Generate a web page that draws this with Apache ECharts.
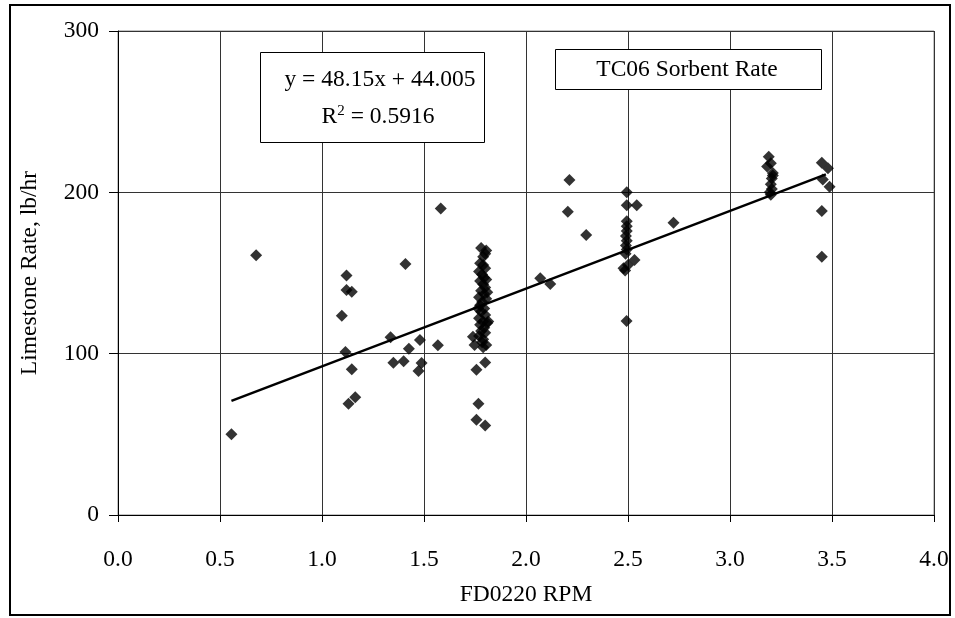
<!DOCTYPE html>
<html>
<head>
<meta charset="utf-8">
<script src="https://cdn.jsdelivr.net/npm/echarts@6/dist/echarts.min.js"></script>
<style>
html,body{margin:0;padding:0;background:#fff;}
#chart{width:955px;height:618px;}
</style>
</head>
<body>
<div id="chart"></div>
<script>
// FD0220 RPM values
var rpm = [
  0.556, 0.677, 1.097, 1.12, 1.12, 1.146, 1.115, 1.146, 1.13, 1.163,
  1.336, 1.35, 1.40, 1.409, 1.426, 1.48, 1.488, 1.473, 1.568, 1.582,
  1.74, 1.757, 1.80, 1.767, 1.757, 1.80,
  1.78, 1.805, 1.80, 1.775, 1.79, 1.80, 1.77, 1.785, 1.795, 1.775,
  1.79, 1.80, 1.78, 1.795, 1.77, 1.805, 1.785, 1.775, 1.795, 1.78,
  1.80, 1.77, 1.79, 1.81, 1.775, 1.795, 1.78, 1.80, 1.77, 1.79,
  1.785, 1.748, 1.805, 1.79, 1.81, 1.815, 1.765, 1.805, 1.79,
  2.07, 2.119, 2.205, 2.213, 2.295, 2.723,
  2.494, 2.494, 2.543, 2.494, 2.494, 2.494, 2.49, 2.494, 2.49, 2.494,
  2.488, 2.532, 2.478, 2.486, 2.50, 2.493,
  3.19, 3.182, 3.20, 3.21, 3.205, 3.20, 3.205, 3.20, 3.21, 3.195,
  3.45, 3.48, 3.455, 3.488, 3.45, 3.45
];
// Limestone rate values, lb/hr
var rate = [
  50, 161, 123.5, 148.5, 139.5, 138.4, 101, 90.3, 69, 73,
  110.2, 94.4, 95.3, 155.6, 103.1, 108.5, 94.2, 89.3, 105.2, 190,
  110.5, 90, 94.5, 69, 59, 55.5,
  165.5, 164, 162, 156, 155, 153, 151, 149, 147, 145,
  143, 141, 139, 137, 135, 134, 132, 130, 128, 126,
  124, 122, 120, 119, 118, 116, 114, 113, 111, 109,
  107, 105.4, 105.4, 104, 138, 120, 128, 146, 160,
  146.7, 143.2, 188, 207.7, 173.6, 181.2,
  200, 192, 192, 182, 179, 176, 173, 170, 167, 164.5,
  162, 158, 153, 151.5, 155, 120.3,
  222, 216, 218, 212, 208.5, 205, 202, 198.5, 210.5, 200,
  218.4, 215, 208, 203.5, 188.5, 160
];
// Trendline from the chart: y = 48.15x + 44.005
var trendSlope = 48.15;
var trendIntercept = 44.005;
var trendRange = [0.556, 3.47];
var xTicks = ['0.0','0.5','1.0','1.5','2.0','2.5','3.0','3.5','4.0'];
var yTicks = ['0','100','200','300'];
var equationText = 'y = 48.15x + 44.005';
var r2Text = '0.5916';
var seriesLabel = 'TC06 Sorbent Rate';

var points = rpm.map(function(x, i){ return [x, rate[i]]; });
var trend = trendRange.map(function(x){ return [x, trendSlope * x + trendIntercept]; });

var FONT = 'Liberation Serif';
var FS = 23.5;
var chart = echarts.init(document.getElementById('chart'));
chart.setOption({
  backgroundColor: '#fff',
  animation: false,
  grid: {left: 118, top: 31, right: 21, bottom: 103, containLabel: false,
         show: true, borderColor: '#888', borderWidth: 1},
  xAxis: {
    type: 'value', min: 0, max: 4, interval: 0.5,
    name: 'FD0220 RPM', nameLocation: 'middle', nameGap: 68,
    nameTextStyle: {fontFamily: FONT, fontSize: FS, color: '#000'},
    axisLine: {show: true, onZero: false, lineStyle: {color: '#000', width: 1}},
    axisTick: {show: true, length: 7, lineStyle: {color: '#000'}},
    axisLabel: {margin: 33, fontFamily: FONT, fontSize: FS, color: '#000',
      formatter: function(v){ return xTicks[Math.round(v / 0.5)]; }},
    splitLine: {show: true, lineStyle: {color: '#333', width: 1}}
  },
  yAxis: {
    type: 'value', min: 0, max: 300, interval: 100,
    name: 'Limestone Rate, lb/hr', nameLocation: 'middle', nameGap: 76, nameRotate: 90,
    nameTextStyle: {fontFamily: FONT, fontSize: FS, color: '#000'},
    axisLine: {show: true, lineStyle: {color: '#000', width: 1}},
    axisTick: {show: true, length: 9, lineStyle: {color: '#000'}},
    axisLabel: {margin: 19, fontFamily: FONT, fontSize: FS, color: '#000',
      formatter: function(v){ return yTicks[Math.round(v / 100)]; }},
    splitLine: {show: true, lineStyle: {color: '#333', width: 1}}
  },
  series: [
    {type: 'scatter', data: points, symbol: 'diamond', symbolSize: 12,
     itemStyle: {color: '#000'}, z: 3},
    {type: 'line', data: trend, symbol: 'none', lineStyle: {color: '#000', width: 2.5}, z: 4}
  ],
  graphic: [
    {type: 'rect', shape: {x: 10, y: 5, width: 940, height: 610},
     style: {fill: 'none', stroke: '#000', lineWidth: 2}, z: 10},
    {type: 'rect', shape: {x: 260.5, y: 52.5, width: 224, height: 90},
     style: {fill: '#fff', stroke: '#000', lineWidth: 1}, z: 20},
    {type: 'text', x: 380, y: 80, z: 21,
     style: {text: equationText, fontFamily: FONT, fontSize: FS, fill: '#000',
             align: 'center', verticalAlign: 'middle'}},
    {type: 'text', x: 378, y: 117, z: 21,
     style: {text: 'R{sup|2} = ' + r2Text, fontFamily: FONT, fontSize: FS, fill: '#000',
             align: 'center', verticalAlign: 'middle',
             rich: {sup: {fontFamily: FONT, fontSize: 15, fill: '#000', verticalAlign: 'top', padding: [0,0,12,0]}}}},
    {type: 'rect', shape: {x: 555.5, y: 49.5, width: 266, height: 40},
     style: {fill: '#fff', stroke: '#000', lineWidth: 1}, z: 20},
    {type: 'text', x: 687, y: 70, z: 21,
     style: {text: seriesLabel, fontFamily: FONT, fontSize: FS, fill: '#000',
             align: 'center', verticalAlign: 'middle'}}
  ]
});
</script>
</body>
</html>
